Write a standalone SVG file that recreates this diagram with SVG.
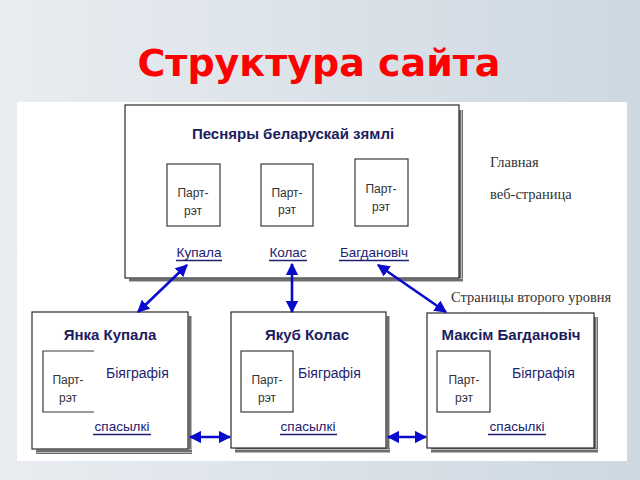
<svg xmlns="http://www.w3.org/2000/svg" width="640" height="480" viewBox="0 0 640 480">
<defs>
<linearGradient id="bg" x1="0" y1="0" x2="1" y2="0">
<stop offset="0" stop-color="#e9edf1"/>
<stop offset="1" stop-color="#cdd8e1"/>
</linearGradient>
<pattern id="hatchV" width="3" height="3" patternUnits="userSpaceOnUse">
<rect width="3" height="3" fill="#6f6f6f"/>
<rect x="2" width="1" height="3" fill="#b8b8b8"/>
</pattern>
<pattern id="hatchH" width="3" height="3" patternUnits="userSpaceOnUse">
<rect width="3" height="3" fill="#6f6f6f"/>
<rect y="2" width="3" height="1" fill="#b8b8b8"/>
</pattern>
<marker id="ah" viewBox="0 0 10 10" refX="9" refY="5" markerWidth="4.8" markerHeight="4.8" orient="auto-start-reverse" markerUnits="strokeWidth">
<path d="M0,0 L10,5 L0,10 z" fill="#0a0acc"/>
</marker>
</defs>
<style>
.box{fill:#ffffff;stroke:#2a2a2a;stroke-width:1.2}
.pbox{fill:#ffffff;stroke:#3a3a3a;stroke-width:1.2}
.head{font-family:"Liberation Sans",Arial,sans-serif;font-weight:bold;font-size:15px;fill:#1c1c60;text-anchor:middle}
.link{font-family:"Liberation Sans",Arial,sans-serif;font-size:13.5px;fill:#202070;text-anchor:middle}
.ul{stroke:#202070;stroke-width:1.6}
.por{font-family:"Liberation Sans",Arial,sans-serif;font-size:12px;fill:#333333;text-anchor:middle}
.bio{font-family:"Liberation Sans",Arial,sans-serif;font-size:14px;fill:#1f1f6f}
.note{font-family:"Liberation Serif","Times New Roman",serif;font-size:14.5px;fill:#333333}
.conn{stroke:#0a0acc;stroke-width:2.6;fill:none;marker-start:url(#ah);marker-end:url(#ah)}
</style>
<rect width="640" height="480" fill="url(#bg)"/>
<text x="319" y="76" font-family="DejaVu Sans,Verdana,sans-serif" font-weight="bold" font-size="38" fill="#ff0000" text-anchor="middle">Структура сайта</text>
<rect x="17" y="102" width="610" height="359" fill="#ffffff"/>

<g id="main">
<rect x="459" y="110" width="4" height="172" fill="url(#hatchV)"/>
<rect x="129" y="278" width="334" height="4" fill="url(#hatchH)"/>
<rect class="box" x="125" y="105" width="334" height="173"/>
<text class="head" x="293" y="139">Песняры беларускай зямлі</text>
<rect class="pbox" x="167" y="164" width="53" height="62"/>
<text class="por" x="193" y="197">Парт-</text>
<text class="por" x="193" y="215">рэт</text>
<rect class="pbox" x="261" y="164" width="52" height="62"/>
<text class="por" x="287" y="197">Парт-</text>
<text class="por" x="287" y="214">рэт</text>
<rect class="pbox" x="355" y="159" width="53" height="67"/>
<text class="por" x="381" y="193">Парт-</text>
<text class="por" x="381" y="211">рэт</text>
<text class="link" x="199" y="257">Купала</text>
<line class="ul" x1="176" y1="260.5" x2="222" y2="260.5"/>
<text class="link" x="288" y="257">Колас</text>
<line class="ul" x1="269" y1="260.5" x2="307" y2="260.5"/>
<text class="link" x="374" y="257">Багдановіч</text>
<line class="ul" x1="339" y1="260.5" x2="409" y2="260.5"/>
</g>

<g id="label-main">
<text class="note" x="490" y="167">Главная</text>
<text class="note" x="490" y="199">веб-страница</text>
</g>
<g id="label-second">
<text class="note" x="451" y="302">Страницы второго уровня</text>
</g>

<g id="kupala">
<rect x="188" y="316" width="4" height="138" fill="url(#hatchV)"/>
<rect x="36" y="449" width="156" height="5" fill="url(#hatchH)"/>
<rect class="box" x="32" y="312" width="156" height="137"/>
<text class="head" x="110" y="340">Янка Купала</text>
<path d="M94,351 H43 V412 H94" fill="none" stroke="#3a3a3a" stroke-width="1.2"/>
<text class="por" x="68" y="384">Парт-</text>
<text class="por" x="68" y="402" font-size="13.5" fill="#222">рэт</text>
<text class="bio" x="106" y="378">Біяграфія</text>
<text class="link" x="122" y="431">спасылкі</text>
<line class="ul" x1="93" y1="434.5" x2="151" y2="434.5"/>
</g>

<g id="kolas">
<rect x="386" y="316" width="4" height="137" fill="url(#hatchV)"/>
<rect x="235" y="448" width="155" height="5" fill="url(#hatchH)"/>
<rect class="box" x="231" y="312" width="155" height="136"/>
<text class="head" x="307" y="340">Якуб Колас</text>
<rect class="pbox" x="241" y="351" width="52" height="61"/>
<text class="por" x="267" y="384">Парт-</text>
<text class="por" x="267" y="402" font-size="13.5" fill="#222">рэт</text>
<text class="bio" x="298" y="378">Біяграфія</text>
<text class="link" x="308" y="431">спасылкі</text>
<line class="ul" x1="280" y1="434.5" x2="337" y2="434.5"/>
</g>

<g id="bagdanovich">
<rect x="594" y="317" width="4" height="136" fill="url(#hatchV)"/>
<rect x="431" y="448" width="167" height="5" fill="url(#hatchH)"/>
<rect class="box" x="427" y="313" width="167" height="135"/>
<text class="head" x="511" y="340">Максім Багдановіч</text>
<rect class="pbox" x="437" y="351" width="53" height="61"/>
<text class="por" x="464" y="384">Парт-</text>
<text class="por" x="464" y="402">рэт</text>
<text class="bio" x="512" y="378">Біяграфія</text>
<text class="link" x="517" y="431">спасылкі</text>
<line class="ul" x1="488" y1="434.5" x2="546" y2="434.5"/>
</g>

<g id="connectors">
<line class="conn" x1="187" y1="265" x2="138" y2="312"/>
<line class="conn" x1="292" y1="264" x2="292" y2="312"/>
<line class="conn" x1="378" y1="265" x2="446" y2="312"/>
<line class="conn" x1="190" y1="437" x2="230" y2="437"/>
<line class="conn" x1="388" y1="437" x2="426" y2="437"/>
</g>
</svg>
